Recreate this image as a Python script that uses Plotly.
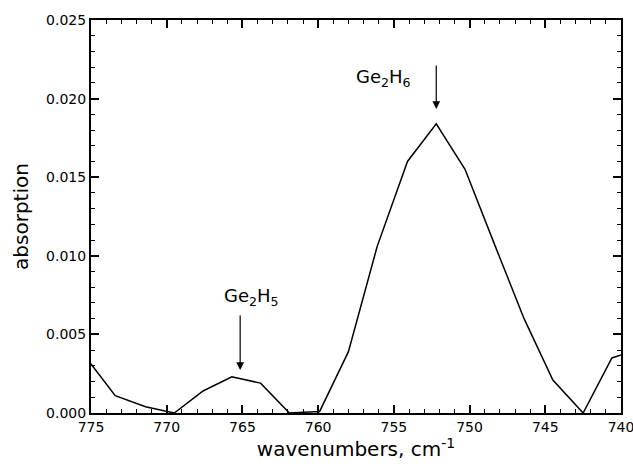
import plotly.graph_objects as go

wavenumbers = [775.3, 773.4, 771.4, 769.5, 767.6, 765.7, 763.8, 761.9, 759.9, 758.0,
               756.1, 754.1, 752.2, 750.3, 748.3, 746.4, 744.5, 742.5, 740.6, 738.7]
absorption = [0.0035, 0.0011, 0.0004, 0.0, 0.0014, 0.0023, 0.0019, 0.0, 0.0001, 0.0039,
              0.0106, 0.0160, 0.0184, 0.0155, 0.0106, 0.0060, 0.0021, 0.0, 0.0035, 0.0041]

label_texts = ["Ge<sub>2</sub>H<sub>6</sub>", "Ge<sub>2</sub>H<sub>5</sub>"]
label_pos = [(755.7, 0.0213), (764.4, 0.0074)]
arrow_tips = [(752.2, 0.01934), (765.15, 0.00274)]
arrow_len = [-45, -56]

FONT = "DejaVu Sans"

fig = go.Figure()
fig.add_trace(go.Scatter(x=wavenumbers, y=absorption, mode="lines",
                         line=dict(color="black", width=1.5), showlegend=False))

for t, (lx, ly) in zip(label_texts, label_pos):
    fig.add_annotation(x=lx, y=ly, text=t, showarrow=False,
                       font=dict(family=FONT, size=18, color="black"))
for (tx, ty), al in zip(arrow_tips, arrow_len):
    fig.add_annotation(x=tx, y=ty, text="", showarrow=True, ax=0, ay=al,
                       arrowhead=2, arrowsize=1.3, arrowwidth=1.2, arrowcolor="black")

axis_common = dict(showline=True, linewidth=2, linecolor="black", mirror="ticks",
                   ticks="inside", ticklen=8, tickwidth=1.5, tickcolor="black",
                   showgrid=False, zeroline=False, automargin=False,
                   ticklabeloverflow="allow",
                   tickfont=dict(family=FONT, size=14, color="black"))

fig.update_xaxes(range=[775, 740], dtick=5, tick0=740,
                 minor=dict(ticks="inside", ticklen=4, dtick=1, tickwidth=1.2, tickcolor="black"),
                 title=dict(text="wavenumbers, cm<sup>-1</sup>", standoff=6,
                            font=dict(family=FONT, size=20, color="black")),
                 **axis_common)
fig.update_yaxes(range=[0, 0.025], dtick=0.005, tickformat=".3f",
                 minor=dict(ticks="inside", ticklen=4, dtick=0.001, tickwidth=1.2, tickcolor="black"),
                 title=dict(text="absorption", standoff=12,
                            font=dict(family=FONT, size=20, color="black")),
                 **axis_common)

fig.update_layout(width=633, height=467, margin=dict(l=91, r=12, t=20, b=54),
                  plot_bgcolor="white", paper_bgcolor="white")

fig.write_html("out.html")
